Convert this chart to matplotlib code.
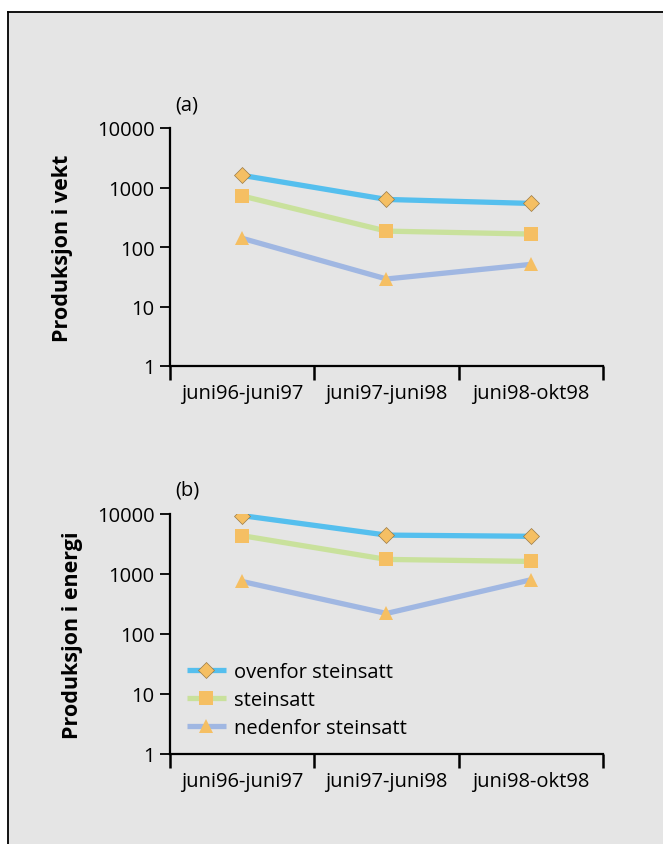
import numpy as np
import matplotlib
matplotlib.use("Agg")
import matplotlib.pyplot as plt
from matplotlib.patches import Rectangle
from matplotlib.lines import Line2D

# =============================================================================
# DATA
# =============================================================================
perioder = ["juni96-juni97", "juni97-juni98", "juni98-okt98"]
serier = ["ovenfor steinsatt", "steinsatt", "nedenfor steinsatt"]

# (a) produksjon i vekt
vekt_ovenfor = [1600, 630, 540]
vekt_steinsatt = [720, 185, 165]
vekt_nedenfor = [140, 29, 51]

# (b) produksjon i energi
energi_ovenfor = [9400, 4450, 4250]
energi_steinsatt = [4350, 1750, 1620]
energi_nedenfor = [750, 220, 800]

ytick_verdier = [1, 10, 100, 1000, 10000]

# =============================================================================
# STIL
# =============================================================================
plt.rcParams['font.family'] = ['Open Sans', 'DejaVu Sans']
BG = '#E5E5E5'
FS = 14.5
farger = ['#55BFEE', '#C9E19C', '#A0B7E2']
markorer = ['D', 's', '^']
msize = [8, 10.5, 10]
ORANSJE = '#F5BF63'

fig = plt.figure(figsize=(6.63, 8.45), dpi=100)
fig.patch.set_facecolor('white')

# grå bakgrunn med svart kant oppe og til venstre
x0, y0 = 7.5 / 663, 1 - 12.5 / 845
fig.patches.append(Rectangle((x0, 0), 1 - x0, y0, transform=fig.transFigure,
                             facecolor=BG, edgecolor='none', zorder=-10))
fig.lines.append(Line2D([x0, x0], [0, y0], transform=fig.transFigure, color='black',
                        lw=1.3, zorder=-9))
fig.lines.append(Line2D([x0, 1], [y0, y0], transform=fig.transFigure, color='black',
                        lw=1.3, zorder=-9))


def tegn_panel(ax, data, ylabel, bokstav, label_x):
    x = np.arange(len(perioder)) + 0.5
    for i, verdier in enumerate(data):
        ax.plot(x, verdier, color=farger[i], lw=3.8, zorder=2, solid_capstyle='butt',
                marker=markorer[i], markersize=msize[i], markerfacecolor=ORANSJE,
                markeredgecolor='#9a7a45' if markorer[i] == 'D' else ORANSJE,
                markeredgewidth=0.5 if markorer[i] == 'D' else 0,
                label=serier[i])
    ax.set_yscale('log')
    ax.set_ylim(1, 10000)
    ax.set_xlim(0, len(perioder))
    ax.set_facecolor('none')
    ax.set_yticks(ytick_verdier)
    ax.set_yticklabels([str(v) for v in ytick_verdier])
    ax.yaxis.set_minor_locator(matplotlib.ticker.NullLocator())
    ax.set_xticks(np.arange(len(perioder) + 1))
    ax.set_xticklabels([])
    ax.set_xticks(x, minor=True)
    ax.set_xticklabels(perioder, minor=True)
    ax.tick_params(axis='x', which='minor', length=0, labelsize=FS, pad=12)
    ax.tick_params(axis='x', which='major', direction='out', length=10, width=1.8)
    ax.tick_params(axis='y', direction='out', length=7, width=1.3, labelsize=FS, pad=4)
    for s in ['top', 'right']:
        ax.spines[s].set_visible(False)
    ax.spines['left'].set_linewidth(1.6)
    ax.spines['bottom'].set_linewidth(1.6)
    ax.set_ylabel(ylabel, fontsize=15.5, fontweight='bold')
    ax.yaxis.set_label_coords(label_x, 0.5)
    ax.text(0.012, 1.1, bokstav, transform=ax.transAxes, fontsize=FS, va='center')


ax1 = fig.add_axes([170 / 663, 1 - 367 / 845, 433 / 663, 238 / 845])
tegn_panel(ax1, [vekt_ovenfor, vekt_steinsatt, vekt_nedenfor], "Produksjon i vekt", "(a)", -0.225)

ax2 = fig.add_axes([170 / 663, 1 - 755 / 845, 433 / 663, 240 / 845])
tegn_panel(ax2, [energi_ovenfor, energi_steinsatt, energi_nedenfor], "Produksjon i energi", "(b)", -0.2)
ax2.legend(loc='upper left', bbox_to_anchor=(0.04, 0.385), frameon=False, fontsize=FS,
           handlelength=1.9, handletextpad=0.4, labelspacing=0.4, borderpad=0,
           borderaxespad=0)

fig.savefig("out.png", dpi=100, facecolor=fig.get_facecolor())
